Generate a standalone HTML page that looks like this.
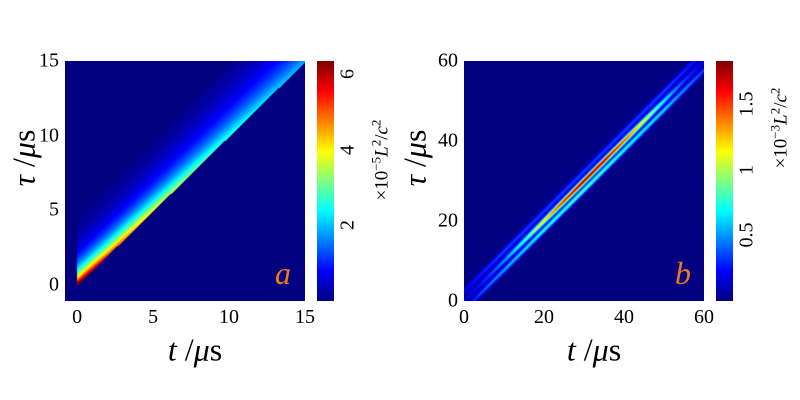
<!DOCTYPE html>
<html><head><meta charset="utf-8"><style>
body{margin:0;background:#fff;width:800px;height:400px;overflow:hidden;position:relative;font-family:"Liberation Serif",serif}
.t{position:absolute;font-size:20px;color:#000;white-space:nowrap}
.lab{position:absolute;font-size:32px;white-space:nowrap}
canvas{position:absolute}
sup{font-size:13px}
</style></head><body>
<canvas id="ca" width="240" height="240" style="left:65px;top:61px"></canvas>
<canvas id="cba" width="17" height="240" style="left:317px;top:61px"></canvas>
<canvas id="cb" width="240" height="240" style="left:464px;top:61px"></canvas>
<canvas id="cbb" width="17" height="240" style="left:716px;top:61px"></canvas>
<div id="ticks"></div>
<div class="lab" style="left:195px;top:350px;transform:translate(-50%,-50%)"><i>t</i> /<i>μ</i>s</div>
<div class="lab" style="left:24px;top:158px;transform:translate(-50%,-50%) rotate(-90deg)"><i>τ</i> /<i>μ</i>s</div>
<div class="lab" style="left:594px;top:350px;transform:translate(-50%,-50%)"><i>t</i> /<i>μ</i>s</div>
<div class="lab" style="left:415px;top:158px;transform:translate(-50%,-50%) rotate(-90deg)"><i>τ</i> /<i>μ</i>s</div>
<div class="lab" style="left:275px;top:255px;color:#f07818;font-style:italic">a</div>
<div class="lab" style="left:675px;top:255px;color:#f07818;font-style:italic">b</div>
<div class="t" style="left:381px;top:160px;font-size:19px;transform:translate(-50%,-50%) rotate(-90deg)">×10<sup>−5</sup><i>L</i><sup>2</sup>/<i>c</i><sup>2</sup></div>
<div class="t" style="left:780px;top:128px;font-size:19px;transform:translate(-50%,-50%) rotate(-90deg)">×10<sup>−3</sup><i>L</i><sup>2</sup>/<i>c</i><sup>2</sup></div>
<script>
// Panel a data
const aT=[0,2,4,6,8,10,12,14,15];
const aPeak=[6.4,4.8,3.9,3.2,2.6,2.2,1.9,1.6,1.5];
const aDecay=[0.9,1.0,1.1,1.2,1.35,1.5,1.65,1.8,1.8];
const aXTicks=[0,5,10,15], aYTicks=[0,5,10,15], aCTicks=[2,4,6];
// Panel b data
const bT=[0,5,10,15,20,25,30,35,40,45,50,55,60];
const bCenter=[0.15,0.3,0.5,0.8,1.2,1.6,1.8,1.75,1.5,1.15,0.7,0.35,0.2];
const bLower=[0.2,0.4,0.55,0.65,0.75,0.8,0.85,0.8,0.75,0.7,0.65,0.5,0.35];
const bUpper=[0.2,0.3,0.35,0.35,0.35,0.35,0.35,0.35,0.35,0.35,0.35,0.3,0.25];
const bXTicks=[0,20,40,60], bYTicks=[0,20,40,60], bCTicks=[0.5,1,1.5];

function interp(xs,ys,x){if(x<=xs[0])return ys[0];for(let i=1;i<xs.length;i++)if(x<=xs[i]){const f=(x-xs[i-1])/(xs[i]-xs[i-1]);return ys[i-1]+f*(ys[i]-ys[i-1]);}return ys[ys.length-1];}
function jet(v){v=Math.max(0,Math.min(1,v));const c=x=>Math.max(0,Math.min(1,x));
return [c(1.5-Math.abs(4*v-3)),c(1.5-Math.abs(4*v-2)),c(1.5-Math.abs(4*v-1))].map(x=>Math.round(x*255));}
function draw(id,x0,x1,y0,y1,vmax,f){const cv=document.getElementById(id),ctx=cv.getContext('2d'),im=ctx.createImageData(240,240);
for(let j=0;j<240;j++)for(let i=0;i<240;i++){const x=x0+(i+0.5)/240*(x1-x0),y=y1-(j+0.5)/240*(y1-y0);
const col=jet(f(x,y)/vmax),k=(j*240+i)*4;im.data[k]=col[0];im.data[k+1]=col[1];im.data[k+2]=col[2];im.data[k+3]=255;}
ctx.putImageData(im,0,0);}
function cbar(id){const ctx=document.getElementById(id).getContext('2d');for(let j=0;j<240;j++){const c=jet(1-j/239);ctx.fillStyle=`rgb(${c})`;ctx.fillRect(0,j,17,1);}}
// a
const aX=[-0.8,15],aY=[-1.1,15],aVmax=6.35;
draw('ca',aX[0],aX[1],aY[0],aY[1],aVmax,(t,tau)=>{if(t<0)return 0;const d=tau-t;if(d<-0.1||d>4.5)return 0;
const p=interp(aT,aPeak,t);return p*Math.exp(-Math.max(d,0)/interp(aT,aDecay,t))+0.35*(1-d/4.5);});
cbar('cba');
// b
const bX=[0,60],bY=[0,60],bVmax=1.83;
const g=(d,s)=>Math.exp(-d*d/(2*s*s));
draw('cb',bX[0],bX[1],bY[0],bY[1],bVmax,(t,tau)=>{const d=tau-t;
return interp(bT,bCenter,t)*g(d,0.6)+interp(bT,bLower,t)*g(d+2.3,0.55)+interp(bT,bUpper,t)*g(d-2.4,0.6);});
cbar('cbb');
// ticks
const T=document.getElementById('ticks');
function lbl(txt,x,y,name,tf){const e=document.createElement('div');e.className='t';e.textContent=txt;


e.style.left=x+'px';e.style.top=y+'px';e.style.transform=tf;T.appendChild(e);}
function axes(px,xd,yd,xt,yt,ct,vmax,cbx,tag){
xt.forEach(v=>lbl(v,px+(v-xd[0])/(xd[1]-xd[0])*240,306,'x-tick-'+tag,'translateX(-50%)'));
yt.forEach(v=>lbl(v,px-6,61+(yd[1]-v)/(yd[1]-yd[0])*240,'y-tick-'+tag,'translate(-100%,-50%)'));
ct.forEach(v=>lbl(v,cbx+31,301-v/vmax*240,'colorbar-tick-'+tag,'translate(-50%,-50%) rotate(-90deg)'));}
axes(65,aX,aY,aXTicks,aYTicks,aCTicks,aVmax,317,'a');
axes(464,bX,bY,bXTicks,bYTicks,bCTicks,bVmax,716,'b');
</script>
</body></html>
